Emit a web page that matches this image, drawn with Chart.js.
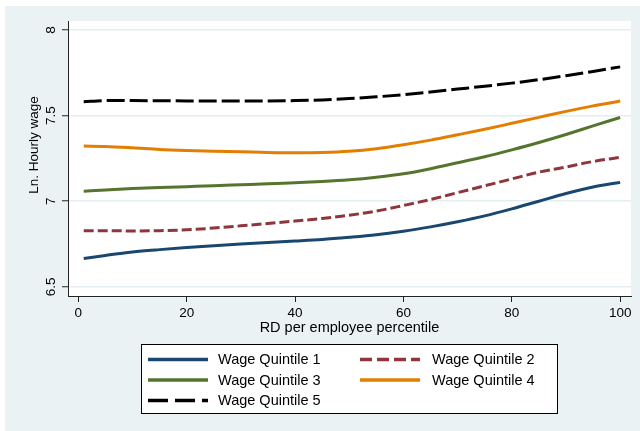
<!DOCTYPE html>
<html>
<head>
<meta charset="utf-8">
<title>Ln. Hourly wage by RD per employee percentile</title>
<script src="https://cdn.jsdelivr.net/npm/chart.js@4.4.1/dist/chart.umd.min.js"></script>
<style>
  html, body { margin: 0; padding: 0; background: #ffffff; }
  #wrap { width: 640px; height: 431px; }
</style>
</head>
<body>
<div id="wrap"><canvas id="chart" width="640" height="431"></canvas></div>
<script>
// RD per employee percentile (x positions of the fitted curves)
const percentiles = [1, 5, 10, 15, 20, 25, 30, 35, 40, 45, 50, 55, 60, 65, 70, 75, 80, 85, 90, 95, 100];

// Ln. hourly wage, one fitted curve per wage quintile
const quintile1 = [6.665, 6.683, 6.703, 6.717, 6.729, 6.740, 6.750, 6.759, 6.767, 6.776, 6.789, 6.804, 6.824, 6.850, 6.880, 6.914, 6.955, 7.000, 7.045, 7.083, 7.110];
const quintile2 = [6.828, 6.828, 6.826, 6.828, 6.833, 6.843, 6.856, 6.870, 6.884, 6.899, 6.918, 6.942, 6.975, 7.010, 7.050, 7.090, 7.130, 7.170, 7.200, 7.232, 7.256];
const quintile3 = [7.058, 7.066, 7.074, 7.080, 7.085, 7.090, 7.096, 7.102, 7.108, 7.115, 7.125, 7.140, 7.160, 7.190, 7.225, 7.260, 7.300, 7.343, 7.390, 7.440, 7.489];
const quintile4 = [7.322, 7.320, 7.312, 7.302, 7.296, 7.292, 7.289, 7.285, 7.283, 7.285, 7.292, 7.307, 7.330, 7.357, 7.388, 7.420, 7.455, 7.490, 7.525, 7.557, 7.585];
const quintile5 = [7.581, 7.588, 7.588, 7.587, 7.586, 7.585, 7.585, 7.586, 7.588, 7.592, 7.600, 7.610, 7.622, 7.638, 7.655, 7.672, 7.690, 7.710, 7.733, 7.758, 7.785];

const seriesLabels = ['Wage Quintile 1', 'Wage Quintile 2', 'Wage Quintile 3', 'Wage Quintile 4', 'Wage Quintile 5'];

// Axis ticks and titles
const xTicks = [0, 20, 40, 60, 80, 100];
const yTicks = [6.5, 7, 7.5, 8];
const xTitle = 'RD per employee percentile';
const yTitle = 'Ln. Hourly wage';

const FONT = '"Liberation Sans", Arial, Helvetica, sans-serif';
const GRAPH_BG = '#eaf2f3';

const styles = [
  { color: '#1a476f', dash: [],      legendDash: [] },
  { color: '#90353b', dash: [10, 4], legendDash: [12, 5] },
  { color: '#55752f', dash: [],      legendDash: [] },
  { color: '#e37e00', dash: [],      legendDash: [] },
  { color: '#000000', dash: [18, 5], legendDash: [20, 7] }
];

const seriesValues = [quintile1, quintile2, quintile3, quintile4, quintile5];

const datasets = seriesValues.map((vals, i) => ({
  label: seriesLabels[i],
  data: percentiles.map((p, j) => ({ x: p, y: vals[j] })),
  borderColor: styles[i].color,
  backgroundColor: styles[i].color,
  borderWidth: 3,
  borderDash: styles[i].dash,
  borderCapStyle: 'butt',
  pointRadius: 0,
  fill: false,
  cubicInterpolationMode: 'monotone',
  legendDash: styles[i].legendDash
}));

// Graph region, plot region, rotated y title and the boxed legend
const frame = {
  id: 'frame',
  beforeDraw(chart) {
    const { ctx, chartArea: a } = chart;
    ctx.save();
    ctx.fillStyle = '#ffffff';
    ctx.fillRect(0, 0, chart.width, chart.height);
    ctx.fillStyle = GRAPH_BG;
    ctx.fillRect(5, 6, chart.width - 5, chart.height - 6);
    ctx.fillStyle = '#ffffff';
    ctx.fillRect(a.left, a.top, a.right - a.left, a.bottom - a.top);
    ctx.restore();
  },
  afterDraw(chart) {
    const { ctx } = chart;

    // y axis title
    ctx.save();
    ctx.translate(34, 145);
    ctx.rotate(-Math.PI / 2);
    ctx.font = '13.5px ' + FONT;
    ctx.fillStyle = '#000';
    ctx.textAlign = 'center';
    ctx.textBaseline = 'middle';
    ctx.fillText(yTitle, 0, 0);
    ctx.restore();

    // legend box
    ctx.save();
    const bx = 141, by = 344, bw = 416, bh = 69;
    ctx.fillStyle = '#ffffff';
    ctx.fillRect(bx, by, bw, bh);
    ctx.strokeStyle = '#000';
    ctx.lineWidth = 1;
    ctx.strokeRect(bx + 0.5, by + 0.5, bw, bh);
    const colKey = [148, 360];
    const colText = [218, 432];
    const rowY = [359.5, 380, 400.5];
    ctx.font = '14.5px ' + FONT;
    ctx.textBaseline = 'middle';
    ctx.textAlign = 'left';
    chart.data.datasets.forEach((ds, i) => {
      const c = i % 2, r = Math.floor(i / 2);
      const y = rowY[r];
      ctx.beginPath();
      ctx.setLineDash(ds.legendDash);
      ctx.lineCap = 'butt';
      ctx.strokeStyle = ds.borderColor;
      ctx.lineWidth = 3.5;
      ctx.moveTo(colKey[c], y);
      ctx.lineTo(colKey[c] + 60, y);
      ctx.stroke();
      ctx.setLineDash([]);
      ctx.fillStyle = '#000';
      ctx.fillText(ds.label, colText[c], y + 0.5);
    });
    ctx.restore();
  }
};

new Chart(document.getElementById('chart'), {
  type: 'line',
  data: { datasets },
  options: {
    responsive: false,
    animation: false,
    devicePixelRatio: 1,
    layout: { padding: { left: 0, top: 21, right: 9, bottom: 87 } },
    plugins: {
      legend: { display: false },
      tooltip: { enabled: false }
    },
    scales: {
      x: {
        type: 'linear',
        min: -1.9,
        max: 102.0,
        afterBuildTicks: s => { s.ticks = xTicks.map(v => ({ value: v })); },
        afterFit: s => { s.height = 48; },
        grid: {
          display: true,
          drawOnChartArea: false,
          drawTicks: true,
          tickLength: 6,
          tickColor: '#222',
          tickWidth: 1
        },
        border: { display: true, color: '#222', width: 1 },
        ticks: {
          padding: 3,
          maxRotation: 0,
          minRotation: 0,
          color: '#000',
          font: { family: FONT, size: 13.5 },
          callback: v => String(v)
        },
        title: {
          display: true,
          text: xTitle,
          color: '#000',
          font: { family: FONT, size: 14.5 },
          padding: { top: 0, bottom: 7.6 }
        }
      },
      y: {
        type: 'linear',
        min: 6.446,
        max: 8.053,
        afterBuildTicks: s => { s.ticks = yTicks.map(v => ({ value: v })); },
        afterFit: s => { s.width = 68; },
        grid: {
          display: true,
          drawOnChartArea: true,
          color: '#e4edef',
          lineWidth: 1.5,
          drawTicks: true,
          tickLength: 6,
          tickColor: '#222',
          tickWidth: 1
        },
        border: { display: true, color: '#222', width: 1 },
        ticks: {
          minRotation: 90,
          maxRotation: 90,
          crossAlign: 'center',
          padding: 1,
          color: '#000',
          font: { family: FONT, size: 13.5 },
          callback: v => String(v)
        },
        title: { display: false }
      }
    }
  },
  plugins: [frame]
});
</script>
</body>
</html>
